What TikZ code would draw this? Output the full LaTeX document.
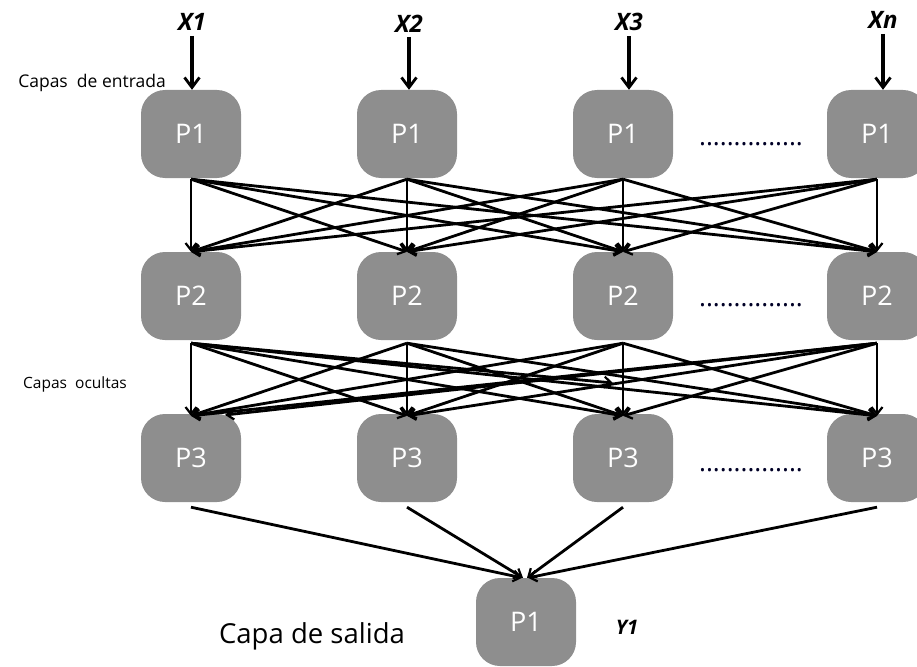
\documentclass[tikz,border=0pt]{standalone}
\usepackage{fontspec}
\setmainfont{Open Sans}
\usetikzlibrary{arrows.meta}
\definecolor{boxgray}{HTML}{8E8E8E}
\begin{document}
\begin{tikzpicture}[x=1pt,y=-1pt,
 pbox/.style={draw=none, fill=boxgray, rounded corners=24pt, minimum width=100pt, minimum height=88pt, text=white, font=\fontsize{27}{29}\selectfont, inner sep=0pt},
 conn/.style={line width=2.8pt, -{Straight Barb[length=7pt,width=11pt,line width=2.2pt]}},
 inarrow/.style={line width=3.3pt, -{Straight Barb[length=10pt,width=15pt,line width=2.8pt]}},
 xlab/.style={font=\fontsize{24}{26}\selectfont\bfseries\itshape, inner sep=0pt},
 dotrow/.style={font=\fontsize{26}{28}\selectfont, text=black!85!blue, anchor=base, inner sep=0pt},
 layerlab/.style={text=black, inner sep=0pt}
]
\useasboundingbox (0,0) rectangle (917,666);
\clip (0,0) rectangle (917,666);

% boxes
\foreach \r/\y/\t in {a/134/P1, b/296/P2, c/458/P3}{
  \node[pbox] (\r1) at (191,\y) {\t};
  \node[pbox] (\r2) at (407,\y) {\t};
  \node[pbox] (\r3) at (623,\y) {\t};
  \node[pbox] (\r4) at (877,\y) {\t};
}
\node[pbox] (out) at (526,622) {P1};

% dots
\node[dotrow] (d1) at (751,145) {...............};
\node[dotrow] (d2) at (751,306) {...............};
\node[dotrow] (d3) at (751,471) {...............};

% input labels and arrows
\node[xlab] (x1) at (192,22) {X1};
\node[xlab] (x2) at (409,24) {X2};
\node[xlab] (x3) at (629,22) {X3};
\node[xlab] (xn) at (883,20) {Xn};
\draw[inarrow] ([yshift=-5pt]x1.south) -- (x1.south |- a1.north);
\draw[inarrow] ([yshift=-4pt]x2.south) -- (x2.south |- a2.north);
\draw[inarrow] ([yshift=-5pt]x3.south) -- (x3.south |- a3.north);
\draw[inarrow] ([yshift=-5pt]xn.south) -- (xn.south |- a4.north);

% layer 1 -> layer 2
\foreach \i in {1,...,4}{
  \foreach \j in {1,...,4}{
    \draw[conn] ([yshift=-1pt]a\i.south) -- (b\j.north);
  }
}
% layer 2 -> layer 3
\foreach \i in {1,...,4}{
  \foreach \j in {1,...,4}{
    \draw[conn] ([yshift=-3pt]b\i.south) -- ([yshift=-2pt]c\j.north);
  }
}
\coordinate (s1) at (613,383);
\coordinate (s2) at (225,415);
\draw[conn] ([yshift=-3pt]b1.south) -- (s1);
\draw[conn] ([yshift=-3pt]b4.south) -- (s2);

% layer 3 -> output
\draw[conn] ([yshift=-5pt]c1.south) -- ([xshift=-4pt]out.north);
\draw[conn] ([yshift=-5pt]c2.south) -- ([xshift=-3pt]out.north);
\draw[conn] ([yshift=-5pt]c3.south) -- ([xshift=1pt]out.north);
\draw[conn] ([yshift=-5pt]c4.south) -- ([xshift=2pt]out.north);

% texts
\node[layerlab, font=\fontsize{17.5}{20}\selectfont] (l1) at (92,83) {Capas\ \ de entrada};
\node[layerlab, font=\fontsize{15.5}{18}\selectfont] (l2) at (75,384) {Capas\ \ ocultas};
\node[layerlab, font=\fontsize{27.5}{30}\selectfont] (l3) at (312,636) {Capa de salida};
\node[xlab, font=\fontsize{20}{22}\selectfont\bfseries\itshape] (y1) at (627,627) {Y1};
\end{tikzpicture}
\end{document}
